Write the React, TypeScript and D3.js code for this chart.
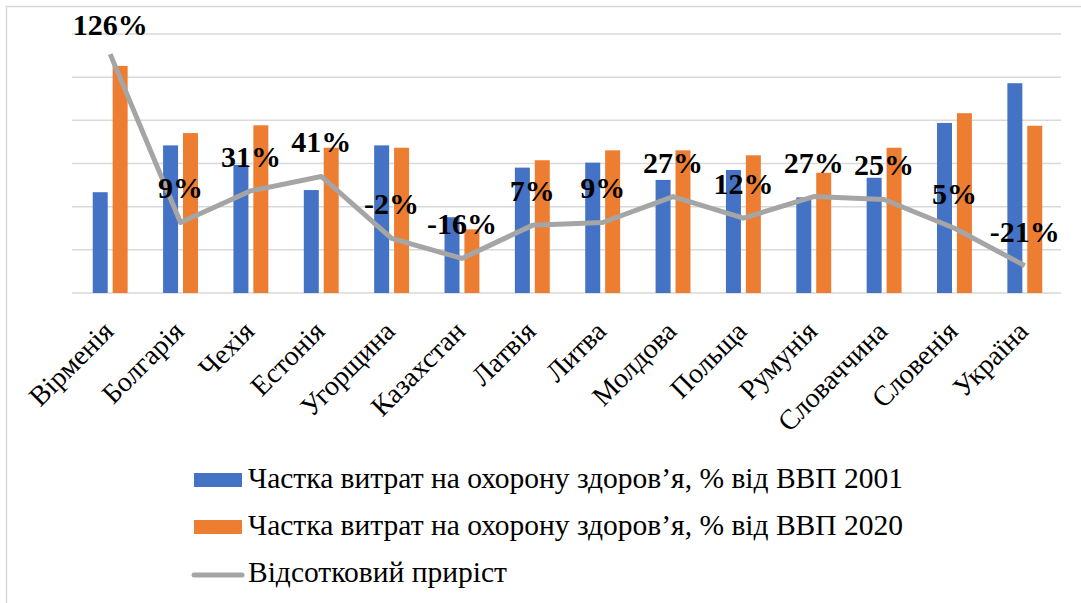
import React from "react";
import * as d3 from "d3";

const countries = ["Вірменія", "Болгарія", "Чехія", "Естонія", "Угорщина", "Казахстан", "Латвія", "Литва", "Молдова", "Польща", "Румунія", "Словаччина", "Словенія", "Україна"];
const share2001 = [4.67, 6.84, 5.93, 4.77, 6.84, 3.51, 5.81, 6.04, 5.24, 5.7, 4.43, 5.34, 7.88, 9.72];
const share2020 = [10.52, 7.41, 7.77, 6.73, 6.73, 2.95, 6.15, 6.61, 6.61, 6.38, 5.57, 6.73, 8.33, 7.75];
const growth = [126, 9, 31, 41, -2, -16, 7, 9, 27, 12, 27, 25, 5, -21];
const seriesNames = [
  "Частка витрат на охорону здоров’я, % від ВВП 2001",
  "Частка витрат на охорону здоров’я, % від ВВП 2020",
  "Відсотковий приріст",
];
const primaryTicks = [0, 2, 4, 6, 8, 10, 12];

const W = 1081, H = 603;
const BLUE = "#4472c4", ORANGE = "#ed7d31", GRAY = "#a5a5a5", GRID = "#d9d9d9";
const ts: React.CSSProperties = { fontFamily: '"Liberation Serif", serif' };

export default function App() {
  const x = d3.scaleBand<string>().domain(countries).range([75, 1060]).padding(0);
  const y = d3.scaleLinear().domain([0, 12]).range([293, 34]);
  const y2 = d3.scaleLinear().domain([-40, 140]).range([293, 34]);
  const band = x.bandwidth();
  const bw = band * 0.213;
  const gap = band * 0.07;
  const cx = (c: string) => (x(c) as number) + band / 2;

  const line = d3
    .line<number>()
    .x((_, i) => cx(countries[i]))
    .y((d) => y2(d));

  return (
    <svg width={W} height={H} style={{ position: "absolute", left: 0, top: 0, background: "#fff" }}>
      <rect x={6.5} y={6.5} width={1200} height={800} fill="#fff" stroke={GRID} strokeWidth={1.5} />
      {primaryTicks.map((t) => (
        <line key={t} x1={72} x2={1061} y1={y(t)} y2={y(t)} stroke={GRID} strokeWidth={1.5} />
      ))}
      {countries.map((c, i) => (
        <g key={c}>
          <rect x={cx(c) - gap / 2 - bw} y={y(share2001[i])} width={bw} height={y(0) - y(share2001[i])} fill={BLUE} />
          <rect x={cx(c) + gap / 2} y={y(share2020[i])} width={bw} height={y(0) - y(share2020[i])} fill={ORANGE} />
        </g>
      ))}
      <path d={line(growth) || ""} fill="none" stroke={GRAY} strokeWidth={5} strokeLinejoin="round" />
      {growth.map((g, i) => (
        <text
          key={i}
          x={cx(countries[i])}
          y={Math.max(35, y2(g) - 24)}
          textAnchor="middle"
          fontSize={30}
          fontWeight="bold"
          fill="#000"
          style={ts}
        >
          {`${g}%`}
        </text>
      ))}
      {countries.map((c) => {
        const ax = cx(c) + 5;
        const ay = 333;
        return (
          <text key={c} x={ax} y={ay} transform={`rotate(-45 ${ax} ${ay})`} textAnchor="end" fontSize={28} fill="#000" style={ts}>
            {c}
          </text>
        );
      })}
      {seriesNames.map((n, i) => {
        const base = 488 + i * 47;
        return (
          <g key={n}>
            {i < 2 ? (
              <rect x={194} y={base - 15} width={48} height={14} fill={i === 0 ? BLUE : ORANGE} />
            ) : (
              <line x1={194} x2={242} y1={base - 7} y2={base - 7} stroke={GRAY} strokeWidth={5} strokeLinecap="round" />
            )}
            <text x={248} y={base} fontSize={29.5} fill="#000" style={ts}>
              {n}
            </text>
          </g>
        );
      })}
    </svg>
  );
}
